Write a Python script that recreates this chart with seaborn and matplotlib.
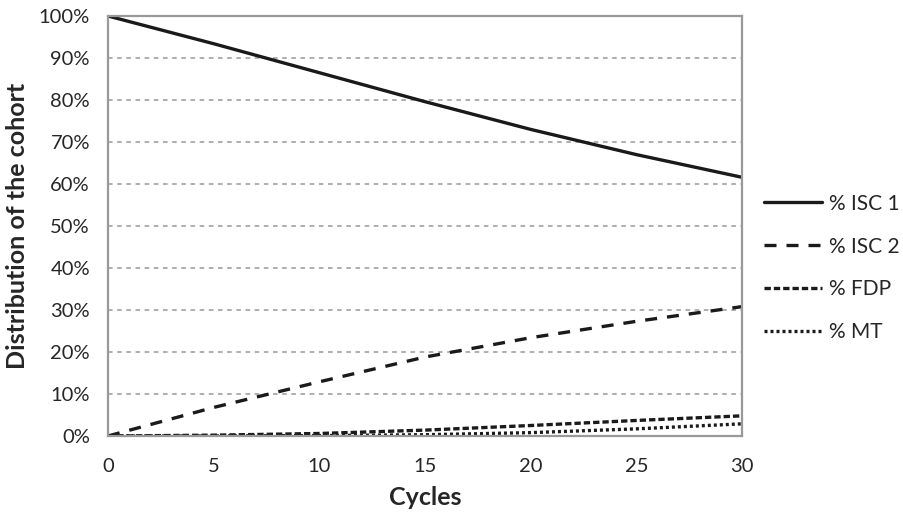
import matplotlib
matplotlib.use("Agg")
import matplotlib.pyplot as plt
import seaborn as sns
import pandas as pd
from matplotlib.ticker import FuncFormatter, MultipleLocator

cycles = [0, 5, 10, 15, 20, 25, 30]
isc1 = [100.0, 93.4, 86.5, 79.6, 73.0, 67.0, 61.6]
isc2 = [0.0, 6.8, 12.9, 18.8, 23.4, 27.3, 30.8]
fdp = [0.0, 0.2, 0.6, 1.4, 2.5, 3.7, 4.8]
mt = [0.0, 0.0, 0.1, 0.3, 0.8, 1.7, 2.9]
series_names = ["% ISC 1", "% ISC 2", "% FDP", "% MT"]

rows = []
for name, vals in zip(series_names, [isc1, isc2, fdp, mt]):
    for c, v in zip(cycles, vals):
        rows.append({"Cycles": c, "value": v, "series": name})
df = pd.DataFrame(rows)

sns.set_theme(style="white")
plt.rcParams["font.family"] = ["Lato", "DejaVu Sans"]

fig = plt.figure(figsize=(9.04, 5.16), dpi=100)
ax = fig.add_axes([108/904, 1-436/516, (742-108)/904, (436-16)/516])

dash_map = {
    "% ISC 1": "",
    "% ISC 2": (3.6, 3.0),
    "% FDP": (1.9, 0.9),
    "% MT": (0.9, 0.9),
}
sns.lineplot(data=df, x="Cycles", y="value", style="series", style_order=series_names,
             dashes=dash_map, color="#1a1a1a", linewidth=2.4, ax=ax, legend=True)

ax.set_xlim(0, 30)
ax.set_ylim(0, 100)
ax.xaxis.set_major_locator(MultipleLocator(5))
ax.yaxis.set_major_locator(MultipleLocator(10))
ax.yaxis.set_major_formatter(FuncFormatter(lambda v, p: f"{v:.0f}%"))

gray = "#999999"
for s in ax.spines.values():
    s.set_color(gray)
    s.set_linewidth(1.6)
ax.grid(axis="y", color=gray, linestyle=(0, (3, 3)), linewidth=1.1)
ax.set_axisbelow(True)
ax.tick_params(axis="both", direction="out", length=5, width=1.2, color=gray,
               labelsize=14.5, labelcolor="#262626")
ax.tick_params(axis="y", pad=8)
ax.tick_params(axis="x", pad=11)

ax.set_xlabel("Cycles", fontsize=18, fontweight="bold", color="#262626", labelpad=8)
ax.set_ylabel("Distribution of the cohort", fontsize=18, fontweight="bold", color="#262626", labelpad=7)

handles, labels = ax.get_legend_handles_labels()
ax.get_legend().remove()
leg = fig.legend(handles, labels, loc="center left", bbox_to_anchor=(764/904, 1-268/516),
                 frameon=False, fontsize=15, handlelength=2.8, handletextpad=0.3,
                 labelspacing=1.1, borderpad=0, borderaxespad=0)
for t in leg.get_texts():
    t.set_color("#262626")

fig.savefig("out.png", dpi=100)
